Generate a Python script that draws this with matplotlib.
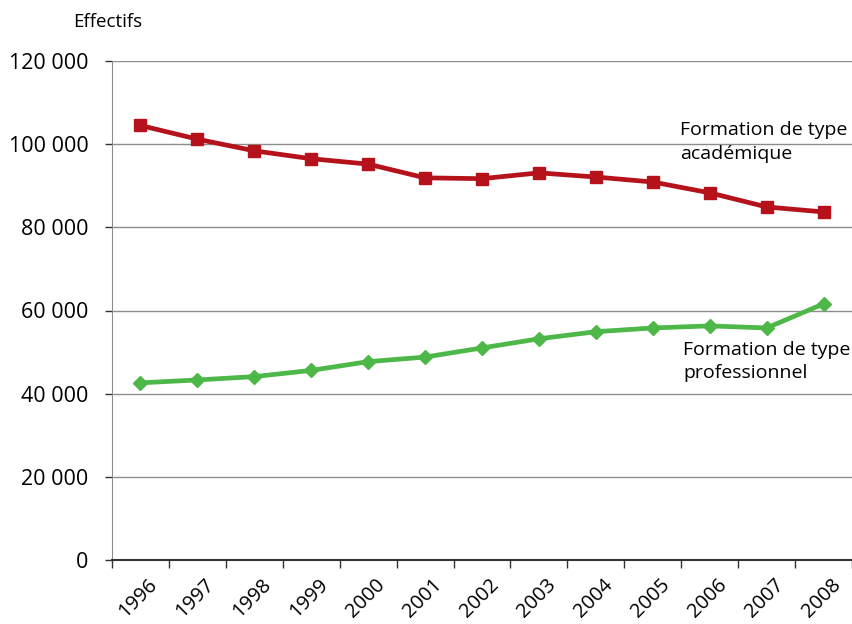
import matplotlib.pyplot as plt
from matplotlib.ticker import FuncFormatter
import matplotlib.transforms as mtransforms
import numpy as np

years = ['1996', '1997', '1998', '1999', '2000', '2001', '2002',
         '2003', '2004', '2005', '2006', '2007', '2008']
academique = [104500, 101200, 98400, 96500, 95200, 91900, 91700,
              93100, 92100, 90900, 88300, 84900, 83700]
professionnel = [42600, 43300, 44100, 45600, 47700, 48800, 51000,
                 53200, 54900, 55800, 56300, 55800, 61600]

plt.rcParams['font.family'] = ['Open Sans', 'DejaVu Sans']

fig = plt.figure(figsize=(8.53, 6.24), dpi=100)
ax = fig.add_axes([112/853, 64/624, 740/853, 499/624])

x = np.arange(len(years))
ax.plot(x, academique, color='#B5121B', lw=3.4, marker='s', ms=9, zorder=3)
ax.plot(x, professionnel, color='#4DB848', lw=3.4, marker='D', ms=7, zorder=3)

ax.set_xlim(-0.5, len(years) - 0.5)
ax.set_ylim(0, 120000)
ax.set_yticks(np.arange(0, 120001, 20000))
ax.yaxis.set_major_formatter(FuncFormatter(lambda v, p: f'{int(v):,}'.replace(',', ' ')))
ax.grid(axis='y', color='#8c8c8c', lw=1)
ax.set_axisbelow(True)

ax.set_xticks(x)
ax.set_xticklabels(years, rotation=45, ha='right', va='top', rotation_mode='anchor')
ax.set_xticks(np.arange(-0.5, len(years)), minor=True)
ax.tick_params(axis='x', which='major', length=0, pad=11, labelsize=14.5)
ax.tick_params(axis='x', which='minor', length=6, width=1, color='#333333')
offset = mtransforms.ScaledTranslation(7/100, 0, fig.dpi_scale_trans)
for lab in ax.get_xticklabels():
    lab.set_transform(lab.get_transform() + offset)
ax.tick_params(axis='y', length=5, width=1, color='#333333', labelsize=15.5, pad=12)

for s in ['top', 'right']:
    ax.spines[s].set_visible(False)
ax.spines['left'].set_color('#8c8c8c')
ax.spines['bottom'].set_color('#333333')
ax.spines['bottom'].set_linewidth(1.5)

fig.text(73/853, 1 - 22/624, 'Effectifs', fontsize=13.5, va='center', ha='left')
fig.text(680/853, 1 - 121/624, 'Formation de type\nacadémique', fontsize=14,
         va='top', ha='left', linespacing=1.45)
fig.text(683/853, 1 - 341/624, 'Formation de type\nprofessionnel', fontsize=14,
         va='top', ha='left', linespacing=1.35)

fig.savefig('out.png', dpi=100)
